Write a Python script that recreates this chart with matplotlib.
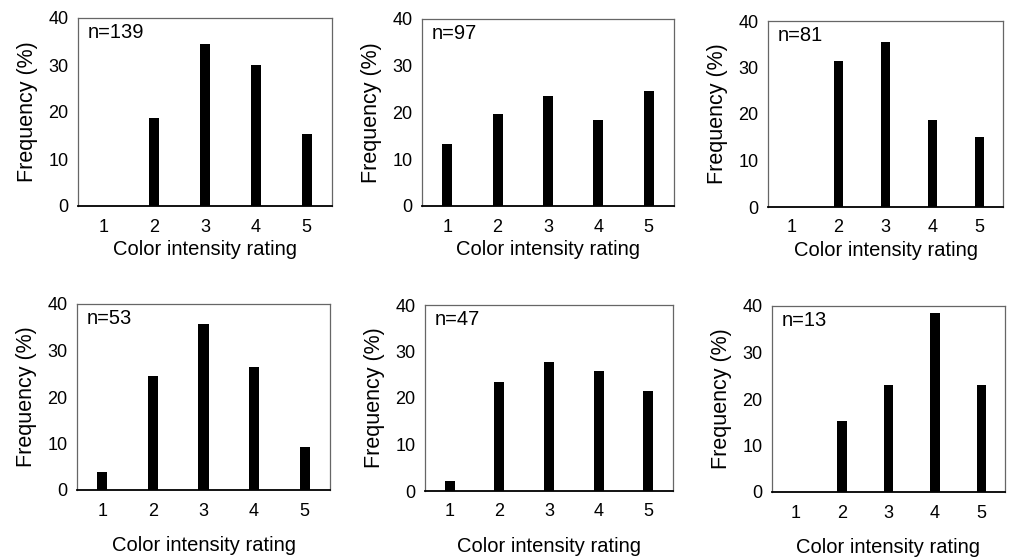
import matplotlib.pyplot as plt

plt.rcParams['font.family'] = ['Liberation Sans', 'DejaVu Sans']

ratings = [1, 2, 3, 4, 5]
sample_sizes = [139, 97, 81, 53, 47, 13]

# frequency (%) per rating, one list per panel
freq_139 = [0, 18.7, 34.5, 30.0, 15.4]
freq_97 = [13.3, 19.6, 23.6, 18.4, 24.6]
freq_81 = [0, 31.4, 35.4, 18.7, 15.0]
freq_53 = [3.8, 24.6, 35.8, 26.4, 9.3]
freq_47 = [2.1, 23.4, 27.8, 25.8, 21.4]
freq_13 = [0, 15.3, 23.1, 38.6, 23.1]
all_freqs = [freq_139, freq_97, freq_81, freq_53, freq_47, freq_13]

W, H = 1010, 559
# axes boxes in pixels: left, right, top, bottom
boxes = [(78, 332, 18, 206), (422, 674, 19, 206), (768, 1003, 21, 207),
         (77, 330, 304, 490), (425, 673, 305, 491), (772, 1005, 306, 492)]

fig = plt.figure(figsize=(W / 100, H / 100), dpi=100)

for i, (l, r, t, b) in enumerate(boxes):
    ax = fig.add_axes([l / W, 1 - b / H, (r - l) / W, (b - t) / H])
    ax.bar(ratings, all_freqs[i], width=0.2, color='black')
    ax.set_xlim(0.5, 5.5)
    ax.set_ylim(0, 40)
    ax.set_yticks([0, 10, 20, 30, 40])
    ax.set_xticks(ratings)
    ax.tick_params(axis='x', length=0, labelsize=13, pad=9)
    ax.tick_params(axis='y', length=0, labelsize=13, pad=7)
    ax.text(0.04, 0.975, 'n=' + str(sample_sizes[i]), transform=ax.transAxes,
            fontsize=14.5, va='top', ha='left')
    ax.set_xlabel('Color intensity rating', fontsize=14.5,
                  labelpad=3 if i < 3 else 12)
    ax.set_ylabel('Frequency (%)', fontsize=15.5, labelpad=7)
    for side in ['top', 'right', 'left']:
        ax.spines[side].set_color('#666666')
        ax.spines[side].set_linewidth(0.9)
    ax.spines['bottom'].set_color('black')
    ax.spines['bottom'].set_linewidth(1.3)

fig.savefig('out.png', dpi=100)
